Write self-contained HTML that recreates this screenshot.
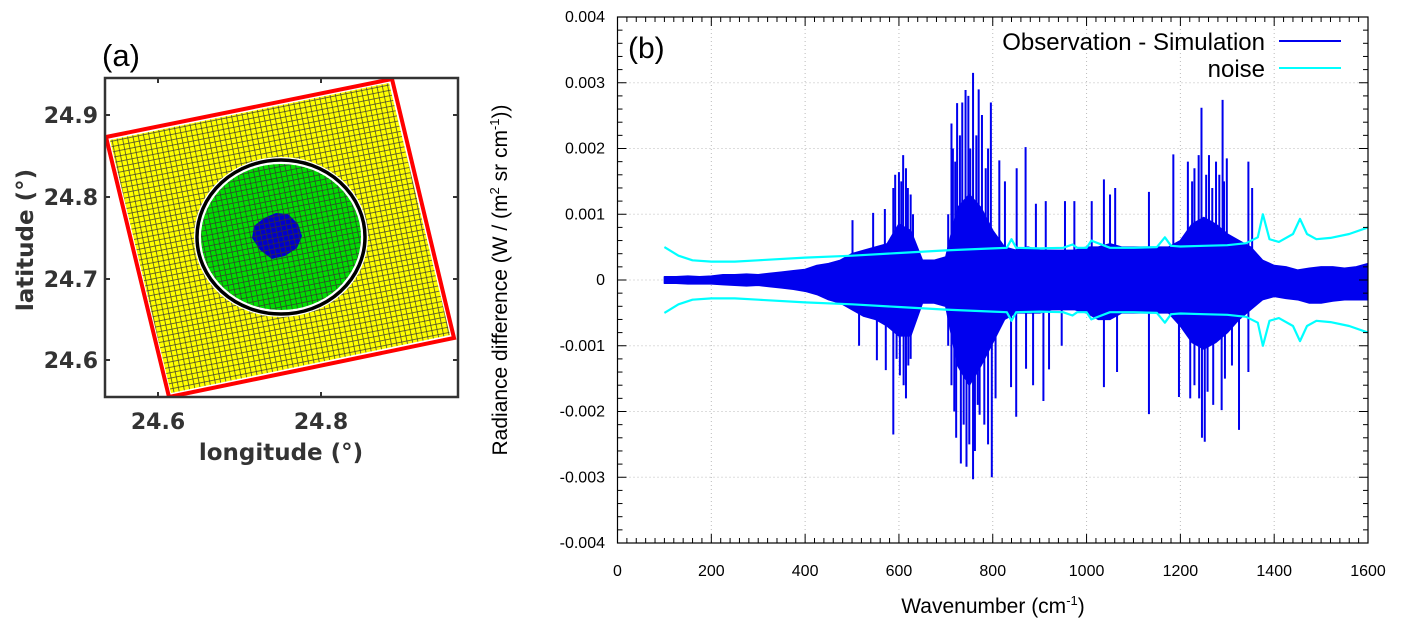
<!DOCTYPE html>
<html><head><meta charset="utf-8"><style>
html,body{margin:0;padding:0;background:#fff;}
svg{display:block;}
.ta{font-family:"DejaVu Sans",sans-serif;font-weight:bold;fill:#333;}
.tb{font-family:"Liberation Sans",sans-serif;fill:#000;}
</style></head><body>
<svg id="root" width="1401" height="635" viewBox="0 0 1401 635" xmlns="http://www.w3.org/2000/svg">
<defs>
<pattern id="grid" width="5.3" height="5.3" patternUnits="userSpaceOnUse" patternTransform="translate(106,137) rotate(-11.46)">
<rect width="5.3" height="5.3" fill="none" stroke="#333" stroke-width="0.7"/>
</pattern>
<clipPath id="clipA"><rect x="105" y="78" width="353" height="319"/></clipPath>
<clipPath id="clipB"><rect x="617.5" y="17" width="750.5" height="526"/></clipPath>
</defs>

<!-- Panel (a) -->
<g>
<text class="tb" x="102" y="66" font-size="31">(a)</text>
<g clip-path="url(#clipA)">
<polygon points="106,137 392,79 454,338 169,397" fill="#fff" stroke="#f00" stroke-width="4"/>
<polygon points="110,140 389,83 450,335 171,393" fill="#ffff00"/>
<polygon points="110,140 389,83 450,335 171,393" fill="url(#grid)"/>
<ellipse cx="281" cy="237" rx="87" ry="80" fill="#fff"/>
<ellipse cx="281" cy="237" rx="84" ry="77" fill="none" stroke="#000" stroke-width="3.5"/>
<ellipse cx="281" cy="237" rx="80" ry="73" fill="#00dd00"/>
<ellipse cx="281" cy="237" rx="80" ry="73" fill="url(#grid)"/>
<polygon points="264,218 276,213 288,214 298,224 302,236 297,248 285,256 272,259 260,250 252,238 254,226" fill="#0000cc"/>
<polygon points="264,218 276,213 288,214 298,224 302,236 297,248 285,256 272,259 260,250 252,238 254,226" fill="url(#grid)"/>
</g>
<rect x="105" y="78" width="353" height="319" fill="none" stroke="#333" stroke-width="2.5"/>
<g stroke="#333" stroke-width="2">
<line x1="105" y1="115" x2="110" y2="115"/><line x1="453" y1="115" x2="458" y2="115"/>
<line x1="105" y1="197" x2="110" y2="197"/><line x1="453" y1="197" x2="458" y2="197"/>
<line x1="105" y1="279" x2="110" y2="279"/><line x1="453" y1="279" x2="458" y2="279"/>
<line x1="105" y1="360" x2="110" y2="360"/><line x1="453" y1="360" x2="458" y2="360"/>
<line x1="158" y1="397" x2="158" y2="392"/><line x1="158" y1="78" x2="158" y2="83"/>
<line x1="321" y1="397" x2="321" y2="392"/><line x1="321" y1="78" x2="321" y2="83"/>
</g>
<g class="ta" font-size="22" text-anchor="end">
<text x="98" y="123">24.9</text><text x="98" y="205">24.8</text><text x="98" y="287">24.7</text><text x="98" y="368">24.6</text>
</g>
<g class="ta" font-size="22" text-anchor="middle">
<text x="158" y="429">24.6</text><text x="321" y="429">24.8</text>
</g>
<text class="ta" font-size="23" text-anchor="middle" x="281" y="460">longitude (°)</text>
<text class="ta" font-size="23" text-anchor="middle" transform="translate(33,240) rotate(-90)">latitude (°)</text>
</g>

<!-- Panel (b) -->
<g id="pb">
<g id="gridB"></g>
<g id="marks" clip-path="url(#clipB)"></g>
<rect x="617.5" y="17" width="750.5" height="526" fill="none" stroke="#000" stroke-width="1.2"/>
<g id="ticksB"></g>
<text class="tb" x="628" y="58" font-size="30">(b)</text>
<g>
<text class="tb" x="1265" y="50" font-size="24" text-anchor="end">Observation - Simulation</text>
<line x1="1279" y1="41" x2="1341" y2="41" stroke="#0000ee" stroke-width="2"/>
<text class="tb" x="1265" y="77" font-size="24" text-anchor="end">noise</text>
<line x1="1279" y1="68" x2="1341" y2="68" stroke="#00ffff" stroke-width="2"/>
</g>
<text class="tb" x="993" y="613" font-size="21" text-anchor="middle">Wavenumber (cm<tspan dy="-8" font-size="13">-1</tspan><tspan dy="8">)</tspan></text>
<text class="tb" font-size="21" text-anchor="middle" transform="translate(507,280) rotate(-90)">Radiance difference (W / (m<tspan dy="-8" font-size="13">2</tspan><tspan dy="8"> sr cm</tspan><tspan dy="-8" font-size="13">-1</tspan><tspan dy="8">))</tspan></text>
</g>
</svg>
<script>
// ---- chart data (values in units of 1e-3 W/(m2 sr cm-1)) ----
const xTicks = [0,200,400,600,800,1000,1200,1400,1600];
const yTicks = [-0.004,-0.003,-0.002,-0.001,0,0.001,0.002,0.003,0.004];
const yTickLabels = ["-0.004","-0.003","-0.002","-0.001","0","0.001","0.002","0.003","0.004"];
const noiseX = [100,130,160,200,250,300,400,500,600,700,800,830,840,850,900,950,970,980,1000,1010,1050,1100,1150,1167,1180,1200,1250,1300,1340,1365,1376,1390,1410,1440,1455,1470,1490,1520,1560,1600];
const noiseY = [0.50,0.37,0.30,0.28,0.28,0.30,0.34,0.37,0.41,0.45,0.48,0.49,0.62,0.49,0.48,0.49,0.54,0.49,0.49,0.60,0.49,0.49,0.50,0.65,0.52,0.51,0.52,0.53,0.56,0.65,1.00,0.62,0.58,0.70,0.93,0.70,0.62,0.64,0.70,0.80];
const envX = [100,125,150,175,200,225,250,275,300,325,350,375,400,425,450,475,500,525,550,575,600,625,650,675,700,725,750,775,800,825,850,875,900,925,950,975,1000,1025,1050,1075,1100,1125,1150,1175,1200,1225,1250,1275,1300,1325,1350,1375,1400,1425,1450,1475,1500,1525,1550,1575,1600];
const envUpper = [.05,.05,.06,.05,.06,.08,.08,.09,.08,.10,.12,.14,.16,.22,.25,.30,.40,.45,.50,.55,.85,.75,.30,.30,.35,1.1,1.3,1.1,.75,.50,.45,.50,.45,.45,.45,.45,.50,.50,.55,.50,.50,.50,.50,.50,.60,.85,.95,.85,.70,.60,.50,.30,.22,.20,.15,.18,.20,.20,.18,.20,.25];
const envLower = [-.05,-.05,-.06,-.06,-.06,-.07,-.08,-.09,-.08,-.10,-.12,-.14,-.17,-.22,-.30,-.35,-.45,-.55,-.60,-.70,-.85,-.85,-.35,-.35,-.40,-1.3,-1.6,-1.3,-.95,-.60,-.50,-.50,-.50,-.45,-.45,-.45,-.50,-.60,-.60,-.50,-.50,-.50,-.50,-.50,-.70,-.95,-1.05,-.95,-.80,-.60,-.45,-.30,-.25,-.28,-.30,-.35,-.35,-.32,-.30,-.30,-.30];
const spikeX = [501,545,570,588,592,600,605,609,615,619,625,630,705,712,715,720,724,730,735,742,748,752,758,765,770,777,785,790,796,814,826,851,870,892,913,954,974,1011,1037,1050,1061,1133,1185,1216,1225,1230,1239,1245,1255,1261,1268,1276,1283,1290,1293,1299,1345,1353,
  515,553,572,588,595,602,610,615,620,625,705,712,718,722,732,738,744,750,758,762,768,772,782,790,798,806,839,850,871,886,908,920,947,1037,1065,1133,1197,1221,1230,1240,1246,1252,1258,1270,1288,1295,1310,1325,1345];
const spikeY = [0.91,1.02,1.08,1.4,1.6,1.64,1.5,1.9,1.7,1.4,1.3,1.0,1.0,2.38,2.0,1.8,2.69,2.2,2.7,2.89,2.8,2.0,3.15,2.2,2.9,2.51,1.7,2.0,2.7,1.82,1.5,1.7,2.02,1.16,1.2,1.2,1.2,1.2,1.53,1.3,1.4,1.34,1.91,1.8,1.5,1.7,1.9,2.62,1.6,1.9,1.4,1.8,1.6,2.74,1.5,1.85,1.8,1.4,
  -1.0,-1.22,-1.37,-2.35,-1.2,-1.45,-1.6,-1.8,-1.3,-1.2,-1.0,-1.6,-2.0,-2.4,-2.79,-2.2,-2.84,-2.5,-3.03,-2.6,-1.9,-2.05,-2.2,-2.5,-3.0,-1.8,-1.63,-2.08,-1.35,-1.6,-1.84,-1.36,-1.0,-1.63,-1.4,-2.04,-1.78,-1.8,-1.6,-1.8,-2.4,-2.46,-1.7,-1.9,-1.98,-1.5,-1.3,-2.28,-1.4];

const NS = "http://www.w3.org/2000/svg";
const X0 = 617.5, X1 = 1368, Y0 = 543, Y1 = 17;
function sx(v){ return X0 + (v - 0) / 1600 * (X1 - X0); }
function sy(v){ return Y0 - (v + 0.004) / 0.008 * (Y0 - Y1); }
function sym(v){ return sy(v / 1000); }
function mk(tag, attrs, parent){ const e = document.createElementNS(NS, tag); for (const k in attrs) e.setAttribute(k, attrs[k]); parent.appendChild(e); return e; }

const gridB = document.getElementById('gridB');
const ticksB = document.getElementById('ticksB');
const marks = document.getElementById('marks');

xTicks.forEach(function(t){
  const gx = mk('line', {x1:sx(t), x2:sx(t), y1:Y1, y2:Y0, stroke:'#bbb', 'stroke-width':1, 'stroke-dasharray':'1,3'}, gridB);
  
  
  const lb = mk('text', {x:sx(t), y:576, 'font-size':16, 'text-anchor':'middle', class:'tb'}, ticksB);
  lb.textContent = t;
  
  
});
for (let t = 0; t <= 1600; t += 20) {
  const len = (t % 200 === 0) ? 9 : 5;
  mk('line', {x1:sx(t), x2:sx(t), y1:Y0, y2:Y0-len, stroke:'#000', 'stroke-width':1}, ticksB);
  mk('line', {x1:sx(t), x2:sx(t), y1:Y1, y2:Y1+len, stroke:'#000', 'stroke-width':1}, ticksB);
}
yTicks.forEach(function(t, i){
  const gy = mk('line', {x1:X0, x2:X1, y1:sy(t), y2:sy(t), stroke:'#bbb', 'stroke-width':1, 'stroke-dasharray':'1,3'}, gridB);
  
  
  const lb = mk('text', {x:605, y:sy(t)+5, 'font-size':16, 'text-anchor':'end', class:'tb'}, ticksB);
  lb.textContent = yTickLabels[i];
  
  
});
for (let k = -20; k <= 20; k++) {
  const t = k * 0.0002;
  const len = (k % 5 === 0) ? 9 : 5;
  mk('line', {x1:X0, x2:X0+len, y1:sy(t), y2:sy(t), stroke:'#000', 'stroke-width':1}, ticksB);
  mk('line', {x1:X1, x2:X1-len, y1:sy(t), y2:sy(t), stroke:'#000', 'stroke-width':1}, ticksB);
}

// dense residual envelope
let pts = [];
envX.forEach(function(x, i){ pts.push(sx(x).toFixed(1) + ',' + sym(envUpper[i]).toFixed(1)); });
for (let i = envX.length - 1; i >= 0; i--) pts.push(sx(envX[i]).toFixed(1) + ',' + sym(envLower[i]).toFixed(1));
const env = mk('polygon', {points:pts.join(' '), fill:'#0000ee', stroke:'#0000ee', 'stroke-width':1.5, 'stroke-linejoin':'round'}, marks);



// spikes
spikeX.forEach(function(x, i){
  const s = mk('line', {x1:sx(x), x2:sx(x), y1:sym(0), y2:sym(spikeY[i]), stroke:'#0000ee', 'stroke-width':2}, marks);
  
  
});

// noise lines (upper and mirrored lower)
const up = noiseX.map(function(x, i){ return sx(x).toFixed(1) + ',' + sym(noiseY[i]).toFixed(1); }).join(' ');
const lo = noiseX.map(function(x, i){ return sx(x).toFixed(1) + ',' + sym(-noiseY[i]).toFixed(1); }).join(' ');
const nu = mk('polyline', {points:up, fill:'none', stroke:'#00ffff', 'stroke-width':2.2, 'stroke-linejoin':'round'}, marks);


const nl = mk('polyline', {points:lo, fill:'none', stroke:'#00ffff', 'stroke-width':2.2, 'stroke-linejoin':'round'}, marks);


</script>
</body></html>
